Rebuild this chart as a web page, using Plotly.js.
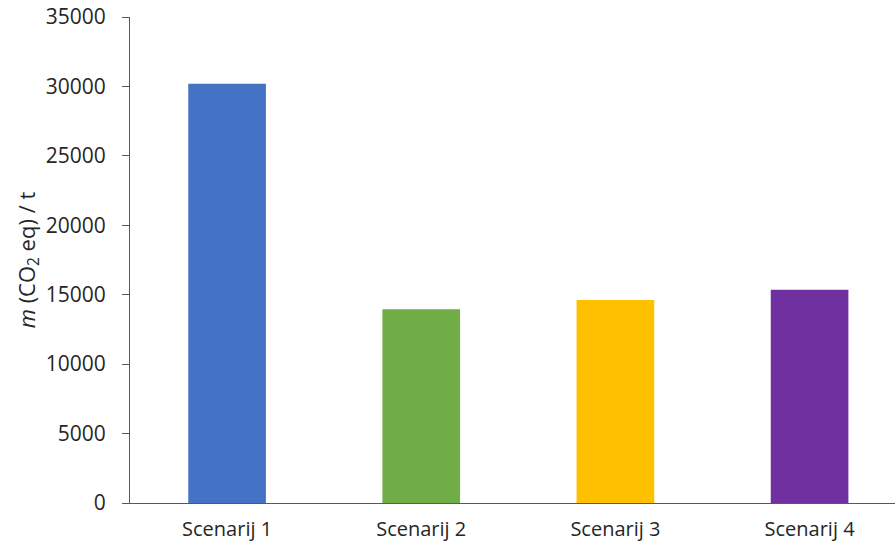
<!DOCTYPE html>
<html>
<head>
<meta charset="utf-8">
<script src="https://cdn.plot.ly/plotly-3.0.1.min.js"></script>
<style>html,body{margin:0;padding:0;background:#fff;}#chart{width:895px;height:549px;}</style>
</head>
<body>
<div id="chart"></div>
<script>
const categories = ["Scenarij 1", "Scenarij 2", "Scenarij 3", "Scenarij 4"];
const values = [30200, 13950, 14620, 15350];
const barColors = ["#4472C4", "#70AD47", "#FFC000", "#7030A0"];
const yTicks = [0, 5000, 10000, 15000, 20000, 25000, 30000, 35000];

const trace = {
  type: "bar",
  x: categories,
  y: values,
  marker: {color: barColors, line: {width: 0}},
  hoverinfo: "none"
};

const layout = {
  width: 895,
  height: 549,
  margin: {l: 130, r: 0, t: 17, b: 46},
  paper_bgcolor: "#fff",
  plot_bgcolor: "#fff",
  bargap: 0.6,
  showlegend: false,
  font: {family: "Open Sans, sans-serif", size: 21, color: "#262626"},
  xaxis: {
    type: "category",
    range: [-0.5, 3.44],
    showline: true,
    linecolor: "#595959",
    linewidth: 1,
    ticks: "",
    showgrid: false,
    zeroline: false,
    ticklabelstandoff: 8,
    tickfont: {family: "Open Sans, sans-serif", size: 20, color: "#262626"}
  },
  yaxis: {
    range: [0, 35000],
    tickvals: yTicks,
    ticktext: yTicks.map(String),
    showline: true,
    linecolor: "#595959",
    linewidth: 1,
    ticks: "outside",
    ticklen: 7,
    tickcolor: "#595959",
    showgrid: false,
    zeroline: false,
    ticklabelstandoff: 12,
    tickfont: {family: "Open Sans, sans-serif", size: 21, color: "#262626"},
    title: {
      text: "<i>m</i> (CO<sub>2</sub> eq) / t",
      font: {family: "Open Sans, sans-serif", size: 22, color: "#262626"},
      standoff: 4
    },
    automargin: false
  }
};

Plotly.newPlot("chart", [trace], layout, {staticPlot: true, displayModeBar: false});
</script>
</body>
</html>
